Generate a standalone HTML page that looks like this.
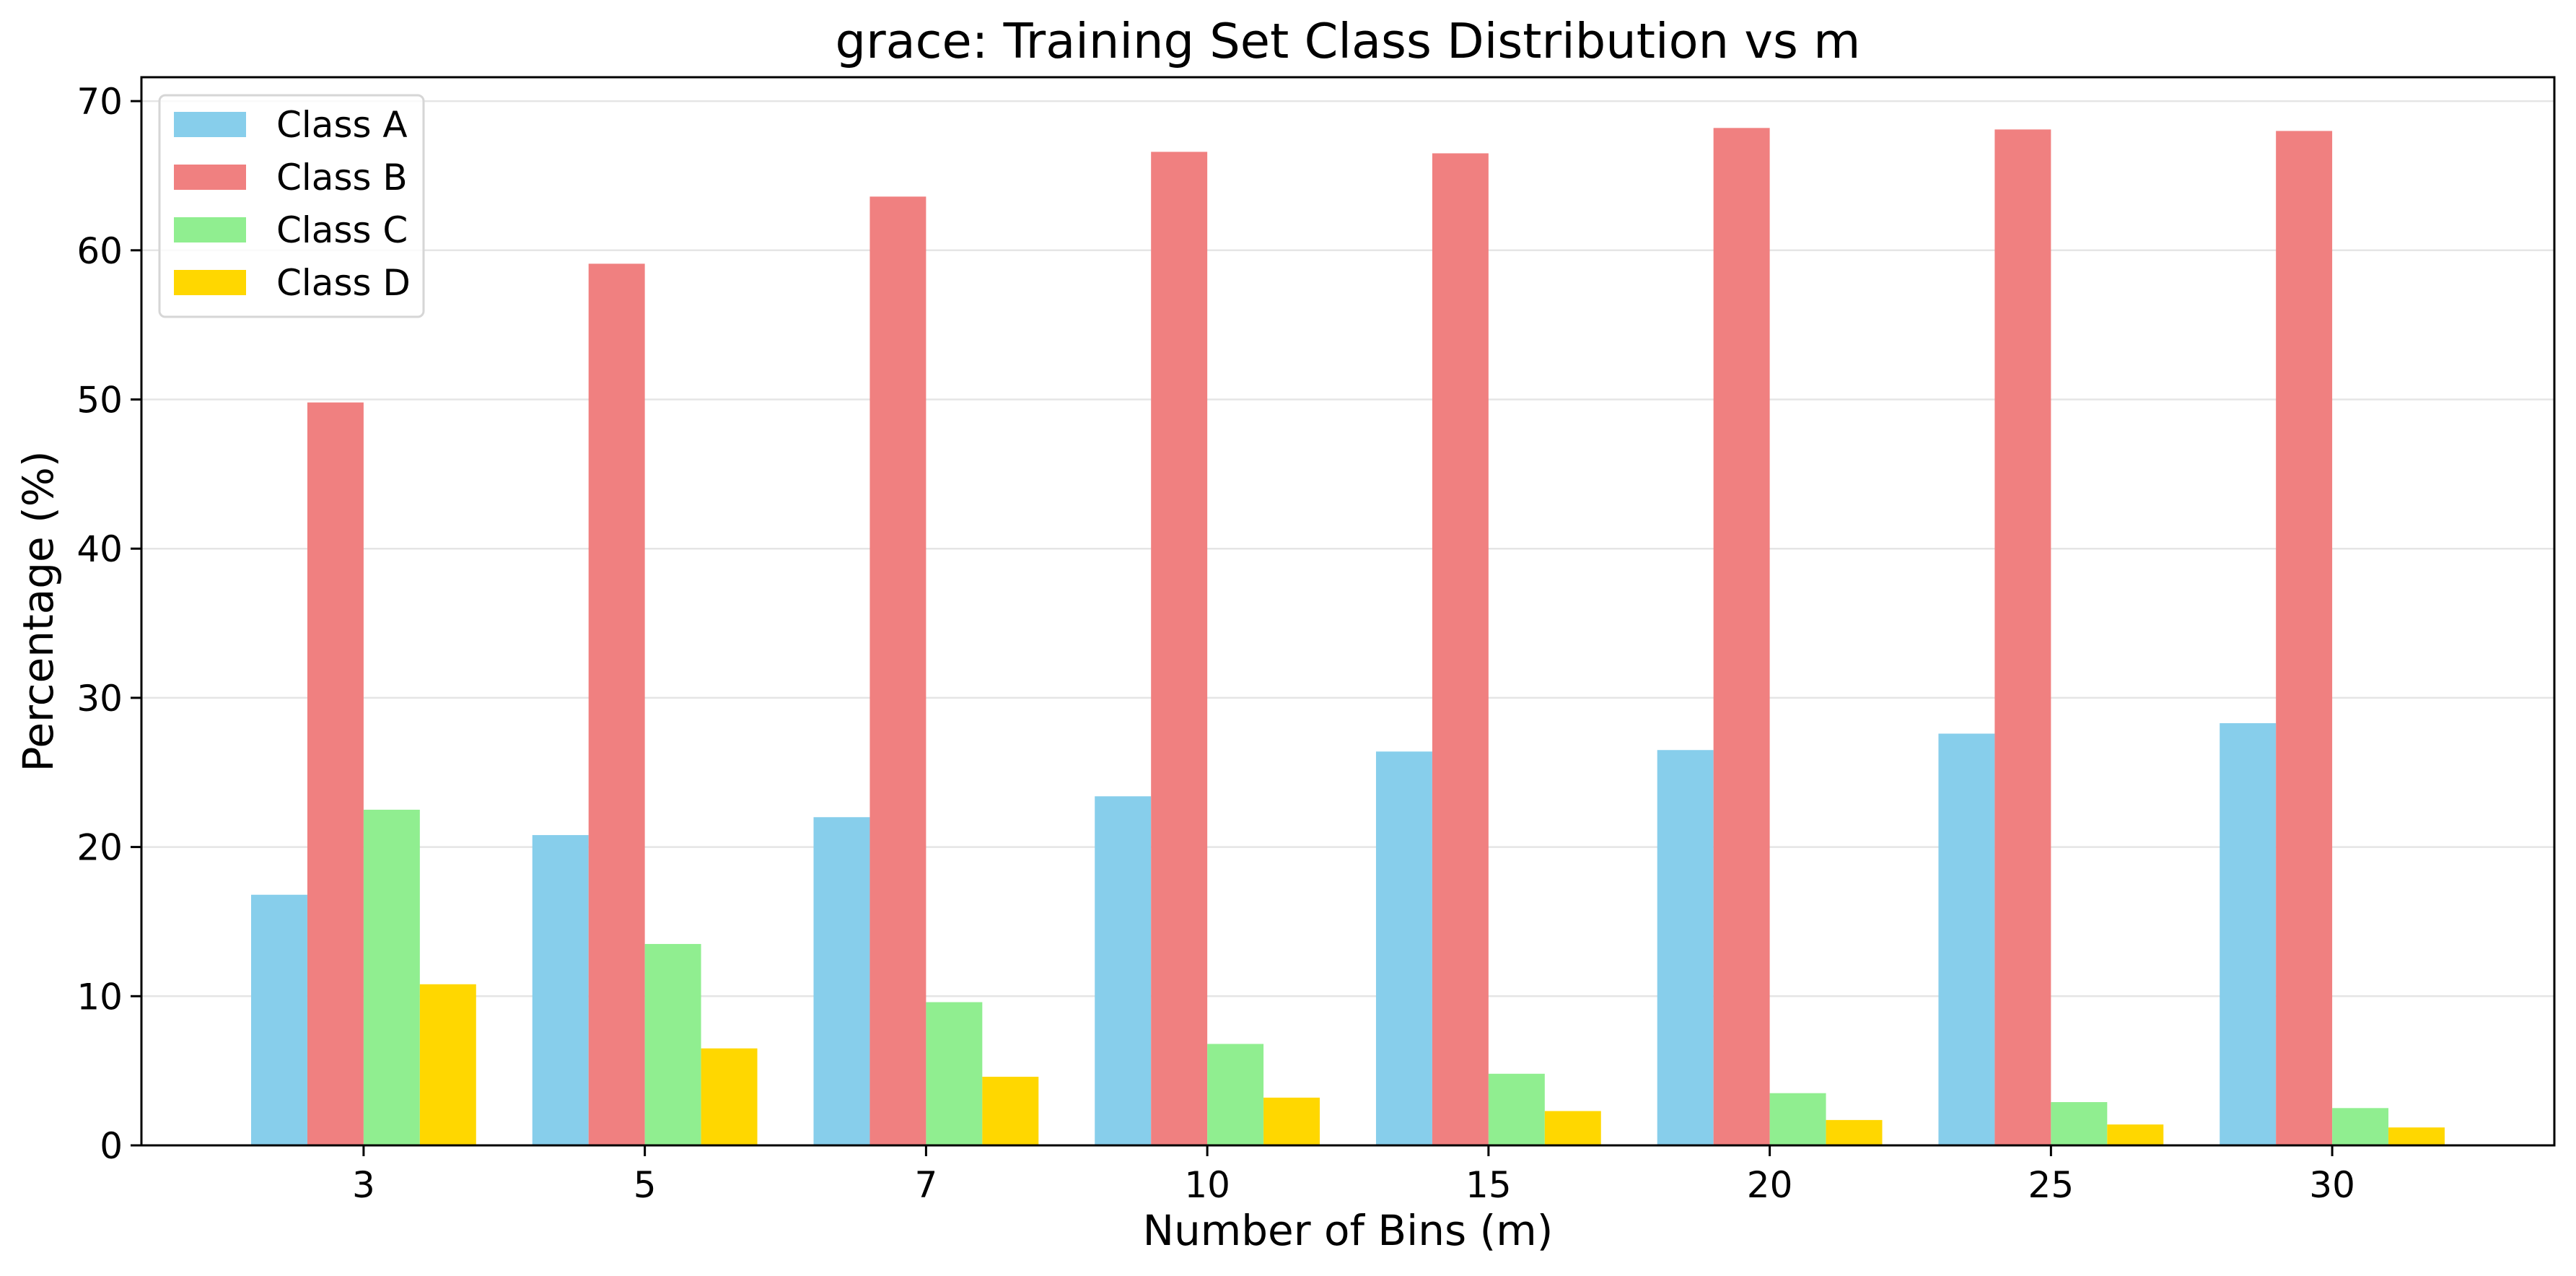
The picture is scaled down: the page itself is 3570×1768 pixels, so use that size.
<!DOCTYPE html>
<html><head><meta charset="utf-8"><style>body{margin:0;background:#fff}svg{display:block}text{font-family:"DejaVu Sans","Liberation Sans",sans-serif;fill:#000}</style></head>
<body>
<svg id="chart" width="3570" height="1768" xmlns="http://www.w3.org/2000/svg"></svg>
<script>
const categories = ["3","5","7","10","15","20","25","30"];
const classA = [16.8,20.8,22.0,23.4,26.4,26.5,27.6,28.3];
const classB = [49.8,59.1,63.6,66.6,66.5,68.2,68.1,68.0];
const classC = [22.5,13.5,9.6,6.8,4.8,3.5,2.9,2.5];
const classD = [10.8,6.5,4.6,3.2,2.3,1.7,1.4,1.2];
const yTicks = [0,10,20,30,40,50,60,70];
const seriesNames = ["Class A","Class B","Class C","Class D"];

const colors = ["#87ceeb","#f08080","#90ee90","#ffd700"];
const series = [classA,classB,classC,classD];
const svg = document.getElementById('chart');
const NS = "http://www.w3.org/2000/svg";
const L=196,R=3540,T=107,B=1587;
const yMin=0,yMax=(B-T)/206.7*10;
const xs = i => L + (i+0.79)/(categories.length-1+1.58)*(R-L);
const ys = v => B - (v-yMin)/(yMax-yMin)*(B-T);
const step = (R-L)/(categories.length-1+1.58);
const bw = step*0.2;
function mk(tag, attrs, parent){const e=document.createElementNS(NS,tag);for(const k in attrs)e.setAttribute(k,attrs[k]);(parent||svg).appendChild(e);return e;}

const grid = mk('g',{});


yTicks.forEach(t=>{
  const l=mk('line',{x1:L,x2:R,y1:ys(t),y2:ys(t),stroke:'#e5e5e5','stroke-width':2.5},grid);
  
  
});

series.forEach((vals,s)=>{
  const g=mk('g',{});
  
  
  vals.forEach((v,i)=>{
    const x=xs(i)+(s-2)*bw;
    const r=mk('rect',{x:x,y:ys(v),width:bw,height:ys(0)-ys(v),fill:colors[s]},g);
    
    
  });
});

const frame=mk('rect',{x:L,y:T,width:R-L,height:B-T,fill:'none',stroke:'#000','stroke-width':3});



yTicks.forEach(t=>{
  mk('line',{x1:L-15,x2:L,y1:ys(t),y2:ys(t),stroke:'#000','stroke-width':3});
  const tx=mk('text',{x:L-26,y:ys(t)+18,'font-size':50,'text-anchor':'end'});
  tx.textContent=t;
  
  
});
categories.forEach((c,i)=>{
  mk('line',{x1:xs(i),x2:xs(i),y1:B,y2:B+15,stroke:'#000','stroke-width':3});
  const tx=mk('text',{x:xs(i),y:B+72,'font-size':50,'text-anchor':'middle'});
  tx.textContent=c;
  
  
});

const title=mk('text',{x:(L+R)/2,y:80,'font-size':67,'text-anchor':'middle'});
title.textContent='grace: Training Set Class Distribution vs m';


const xl=mk('text',{x:(L+R)/2,y:1725,'font-size':58,'text-anchor':'middle'});
xl.textContent='Number of Bins (m)';


const yl=mk('text',{x:0,y:0,'font-size':58,'text-anchor':'middle',transform:'translate(73,'+((T+B)/2)+') rotate(-90)'});
yl.textContent='Percentage (%)';



const lg=mk('g',{});


mk('rect',{x:221,y:132,width:366,height:307,rx:8,fill:'#fff','fill-opacity':0.8,stroke:'#d6d6d6','stroke-width':3},lg);
seriesNames.forEach((n,s)=>{
  const y=155+s*73;
  const sw=mk('rect',{x:241,y:y,width:100,height:35,fill:colors[s]},lg);
  
  
  const tx=mk('text',{x:383,y:y+35,'font-size':50},lg);
  tx.textContent=n;
  
  
});
</script>
</body></html>
